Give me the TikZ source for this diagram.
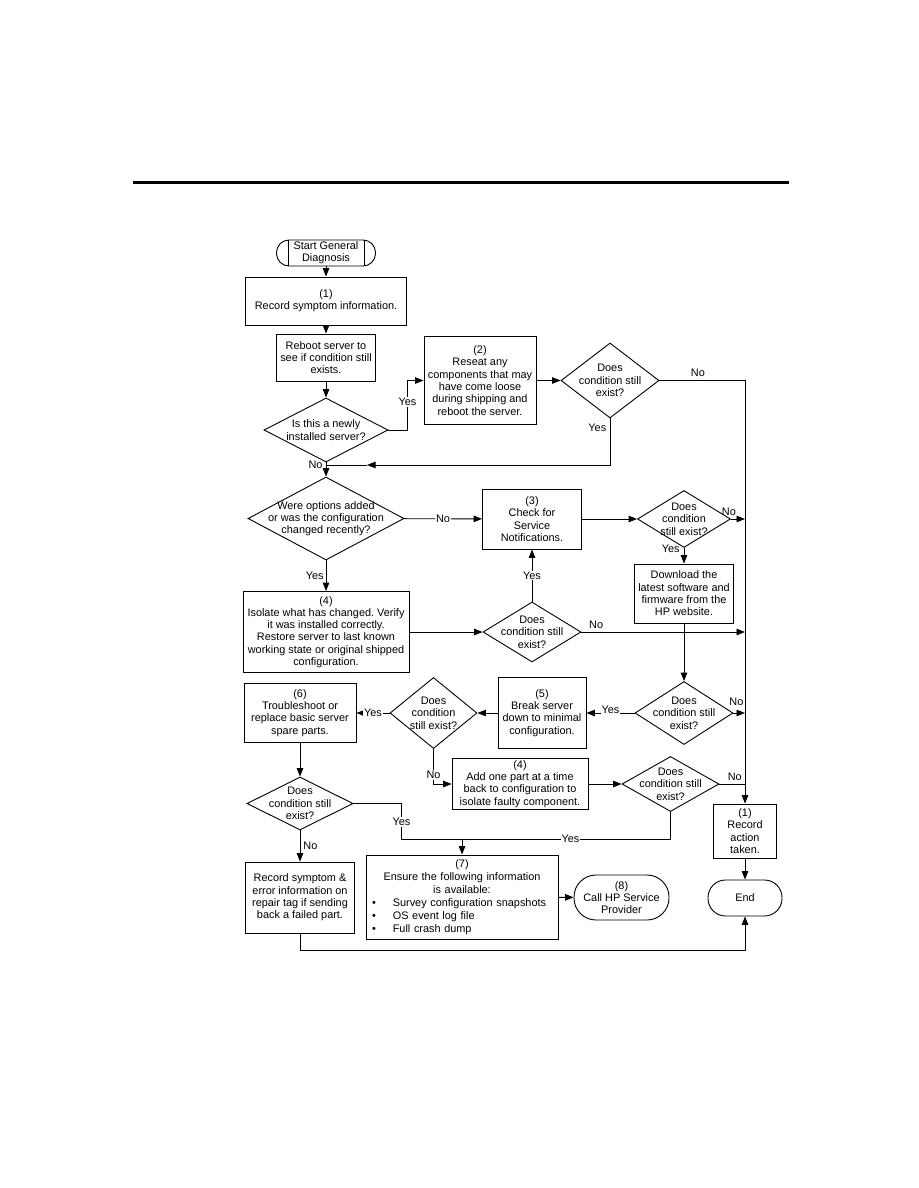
\documentclass[tikz,border=0pt]{standalone}
\usepackage{fontspec}
\setmainfont{Liberation Sans}
\usetikzlibrary{arrows.meta, shapes.geometric}
\frenchspacing

\begin{document}
\begin{tikzpicture}[x=1pt, y=-1pt,
    font=\fontsize{10.9}{12.3}\selectfont,
    line width=0.9pt,
    box/.style={draw, align=center, inner sep=1pt},
    term/.style={draw, align=center, inner sep=1pt},
    ask/.style={draw, diamond, inner sep=0pt,
                label={[align=center]center:#1}},
    lbl/.style={fill=white, inner sep=1pt},
    arr/.style={-{Triangle[length=8.5pt, width=6.5pt]}}]
    \useasboundingbox (0,0) rectangle (918,1188);
    \draw[line width=3pt] (133,182) -- (789,182);
    % top part
    \node[term, minimum width=99pt, minimum height=26pt, rounded corners=12.5pt]
         (start) at (326,253) {Start General\\Diagnosis};
    \draw ([xshift=12pt]start.north west) -- ([xshift=12pt]start.south west);
    \draw ([xshift=-12pt]start.north east) -- ([xshift=-12pt]start.south east);
    \node[box, minimum width=161pt, minimum height=48pt] (sympt) at (326,301)
         {(1)\\Record symptom information.};
    \node[box, minimum width=99pt, minimum height=47pt] (reboot) at (326,357.5)
         {Reboot server to\\see if condition still\\exists.};
    \node[ask={Is this a newly\\installed server?}, minimum width=124pt,
          minimum height=64pt] (newsrv) at (326,430) {};
    \node[box, minimum width=112pt, minimum height=88pt] (reseat) at (480,380.5)
         {(2)\\Reseat any\\components that may\\have come loose\\during shipping and\\reboot the server.};
    \node[ask={Does\\condition still\\exist?}, minimum width=98pt,
          minimum height=75pt] (still1) at (610,380.5) {};
    % middle part
    \node[ask={Were options added\\or was the configuration\\changed recently?},
          minimum width=156pt, minimum height=83pt] (optchg) at (326,518.5) {};
    \node[box, minimum width=99pt, minimum height=60pt] (notif) at (532,519)
         {(3)\\Check for\\Service\\Notifications.};
    \node[ask={Does\\condition\\still exist?}, minimum width=93pt,
          minimum height=57pt] (still2) at (684,519) {};
    \node[box, minimum width=99pt, minimum height=59pt] (dwnld) at (684,593.5)
         {Download the\\latest software and\\firmware from the\\HP website.};
    \node[box, minimum width=166pt, minimum height=81pt] (isolate) at (326,632)
         {(4)\\Isolate what has changed. Verify\\it was installed correctly.\\Restore server to last known\\working state or original shipped\\configuration.};
    \node[ask={Does\\condition still\\exist?}, minimum width=98pt,
          minimum height=60pt] (still3) at (532,632) {};
    \node[ask={Does\\condition still\\exist?}, minimum width=98pt,
          minimum height=63pt] (still4) at (684,713) {};
    \node[box, minimum width=88pt, minimum height=71pt] (brkdn) at (542,713)
         {(5)\\Break server\\down to minimal\\configuration.};
    \node[ask={Does\\condition\\still exist?}, minimum width=87pt,
          minimum height=71pt] (still5) at (433.5,713) {};
    \node[box, minimum width=112pt, minimum height=59pt] (trbl) at (300,713)
         {(6)\\Troubleshoot or\\replace basic server\\spare parts.};
    \node[box, minimum width=136pt, minimum height=51pt] (addpart) at (520,784)
         {(4)\\Add one part at a time\\back to configuration to\\isolate faulty component.};
    \node[ask={Does\\condition still\\exist?}, minimum width=97pt,
          minimum height=55pt] (still6) at (670.5,784) {};
    \node[box, minimum width=63pt, minimum height=54pt] (record) at (745,831)
         {(1)\\Record\\action\\taken.};
    % bottom part
    \node[ask={Does\\condition still\\exist?}, minimum width=106pt,
          minimum height=53pt] (still7) at (300,803.5) {};
    \node[box, minimum width=109pt, minimum height=71pt] (tag) at (300,897.5)
         {Record symptom \&\\error information on\\repair tag if sending\\back a failed part.};
    \node[box, text width=180pt, inner xsep=6pt, minimum height=84pt,
          font=\fontsize{10.9}{13}\selectfont] (ensure) at (462,897)
         {(7)\\Ensure the following information\\is available:\\
          \makebox[180pt][l]{\textbullet\hspace{17pt}Survey configuration snapshots}\\
          \makebox[180pt][l]{\textbullet\hspace{17pt}OS event log file}\\
          \makebox[180pt][l]{\textbullet\hspace{17pt}Full crash dump}};
    \node[term, minimum width=95pt, minimum height=45pt, rounded corners=22pt]
         (callhp) at (621.5,897.5) {(8)\\Call HP Service\\Provider};
    \node[term, minimum width=74pt, minimum height=36pt, rounded corners=17.5pt]
         (endt) at (745,898) {End};
    \coordinate (mrg) at (326,465);
    \coordinate (jn) at (462,839);
    % connectors
    \draw[arr] (start) -- (sympt);
    \draw[arr] (sympt) -- (reboot);
    \draw[arr] (reboot) -- (newsrv);
    \draw[arr] (newsrv.east) -- ++(19,0) |- node[lbl, pos=0.28]{Yes} (reseat.west);
    \draw[arr] (reseat) -- (still1);
    \draw[arr] (still1.east) -- node[above, pos=0.45]{No} (still1.east -| record.north)
               -- (record.north);
    \draw[arr] (still1.south) |- node[left, pos=0.1]{Yes} ([xshift=41pt]mrg);
    \draw ([xshift=41pt]mrg) -- (mrg);
    \draw[arr] (newsrv) -- node[left, pos=0.2, inner sep=3pt]{No} (optchg);
    \draw[arr] (optchg) -- node[lbl]{No} (notif);
    \draw[arr] (notif) -- (still2);
    \draw[arr] (still2.east) -- node[above, pos=0, xshift=-2pt]{No} (still2.east -| record.north);
    \draw[arr] (still2) -- node[left, pos=0.05, inner sep=4pt]{Yes} (dwnld);
    \draw[arr] (dwnld) -- (still4);
    \draw[arr] (optchg) -- node[left, inner sep=2pt]{Yes} (isolate);
    \draw[arr] (isolate) -- (still3);
    \draw[arr] (still3) -- node[lbl]{Yes} (notif);
    \draw[arr] (still3.east) -- node[above, pos=0.09]{No} (still3.east -| record.north);
    \draw[arr] (still4) -- node[lbl, yshift=3pt]{Yes} (brkdn);
    \draw[arr] (still4.east) -- node[above=4pt, pos=0.25]{No} (still4.east -| record.north);
    \draw[arr] (brkdn) -- (still5);
    \draw[arr] (still5) -- node[lbl]{Yes} (trbl);
    \draw[arr] (still5.south) |- node[lbl, pos=0.37]{No} (addpart.west);
    \draw[arr] (addpart) -- (still6);
    \draw (still6.east) -- node[above, pos=0.6]{No} (still6.east -| record.north);
    \draw (still6.south) |- node[lbl, pos=0.74]{Yes} (jn);
    \draw[arr] (trbl) -- (still7);
    \draw (still7.east) -- ++(48,0) |- node[lbl, pos=0.26]{Yes} (jn);
    \draw[arr] (jn) -- (ensure);
    \draw[arr] (still7) -- node[right, inner sep=3pt]{No} (tag);
    \draw[arr] (ensure) -- (callhp);
    \draw[arr] (record) -- (endt);
    \draw[arr] (tag.south) -- ++(0,17) -| (endt.south);
\end{tikzpicture}
\end{document}
